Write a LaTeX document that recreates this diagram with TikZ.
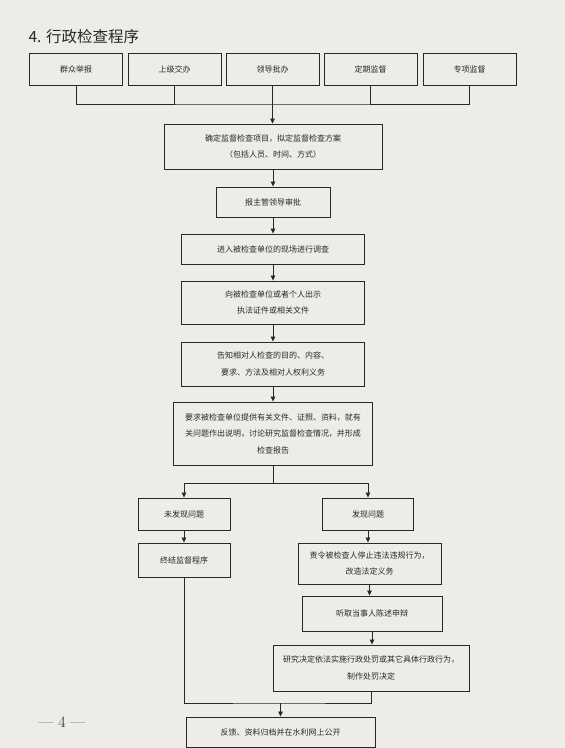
\documentclass[tikz,border=0pt]{standalone}
\usepackage{fontspec}
\usetikzlibrary{arrows.meta,calc}
\newfontfamily\cjk{Noto Sans CJK SC}
\definecolor{paper}{RGB}{236,236,233}
\definecolor{ink}{RGB}{40,40,40}
\tikzstyle{stepbox}=[draw=ink,line width=0.9pt,text=ink,align=center,inner sep=0pt,font=\cjk\fontsize{8}{16.5}\selectfont]
\tikzstyle{link}=[draw=ink,line width=0.8pt]
\tikzstyle{flow}=[link,-{Triangle[length=5pt,width=4.5pt]}]
\newcommand{\stepnode}[6]{
  % name, x, y, width, height, text
  \node[stepbox,minimum width=#4pt,minimum height=#5pt] (#1) at (#2,#3) {#6};
}

\begin{document}
\begin{tikzpicture}[x=1pt,y=-1pt]
	\fill[paper] (0,0) rectangle (565,748);
	\useasboundingbox (0,0) rectangle (565,748);
	\node[anchor=west,text=ink,font=\cjk\fontsize{15.5}{18}\selectfont] (title) at (25,37) {4. 行政检查程序};
	%sources
	\foreach \i/\x/\t in {1/76/群众举报,2/174.5/上级交办,3/272.5/领导批办,4/370.5/定期监督,5/469.5/专项监督} {
	  \stepnode{src\i}{\x}{69.5}{93}{32}{\t}
	}
	\stepnode{plan}{273}{146.5}{218}{45}{确定监督检查项目，拟定监督检查方案\\（包括人员、时间、方式）}
	\stepnode{approve}{273}{202}{114}{30}{报主管领导审批}
	\stepnode{enter}{273}{249}{183}{30}{进入被检查单位的现场进行调查}
	\stepnode{show}{273}{302.5}{183}{43}{向被检查单位或者个人出示\\执法证件或相关文件}
	\stepnode{inform}{273}{364}{183}{44}{告知相对人检查的目的、内容、\\要求、方法及相对人权利义务}
	\stepnode{report}{273}{433.5}{199}{63}{要求被检查单位提供有关文件、证照、资料，就有\\关问题作出说明，讨论研究监督检查情况，并形成\\检查报告}
	%two branches
	\stepnode{nofind}{184}{514}{92}{32}{未发现问题}
	\stepnode{find}{368}{514}{91}{32}{发现问题}
	\stepnode{close}{184}{560}{92}{34}{终结监督程序}
	\stepnode{order}{369.5}{563.5}{143}{41}{责令被检查人停止违法违规行为，\\改造法定义务}
	\stepnode{hear}{372}{613.5}{140}{35}{听取当事人陈述申辩}
	\stepnode{decide}{371}{668}{196}{46}{研究决定依法实施行政处罚或其它具体行政行为，\\制作处罚决定}
	\stepnode{publish}{280.5}{732}{189}{30}{反馈、资料归档并在水利网上公开}
	\node[text=ink,font=\fontsize{16}{18}\selectfont] (page) at (62,722) {--- 4 ---};
	%connectors
	\coordinate (join) at (272.5,104);
	\draw[link] (src1.south) |- (join) -| (src5.south);
	\foreach \i in {2,4} {
	  \draw[link] (src\i.south) -- (src\i.south |- join);
	}
	\draw[flow] (src3.south) -- (src3.south |- plan.north);
	\draw[flow] (plan.south) -- (approve.north);
	\draw[flow] (approve.south) -- (enter.north);
	\draw[flow] (enter.south) -- (show.north);
	\draw[flow] (show.south) -- (inform.north);
	\draw[flow] (inform.south) -- (report.north);
	\coordinate (split) at (273,483);
	\draw[link] (report.south) -- (split);
	\draw[flow] (split) -| (nofind.north);
	\draw[flow] (split) -| (find.north);
	\draw[flow] (nofind.south) -- (close.north);
	\draw[flow] (find.south) -- (find.south |- order.north);
	\draw[flow] (order.south) -- (order.south |- hear.north);
	\draw[flow] (hear.south) -- (hear.south |- decide.north);
	\coordinate (merge) at (280.5,703);
	\draw[link] (close.south) |- (merge) -| (decide.south);
	\draw[flow] (merge) -- (publish.north);
\end{tikzpicture}
\end{document}
